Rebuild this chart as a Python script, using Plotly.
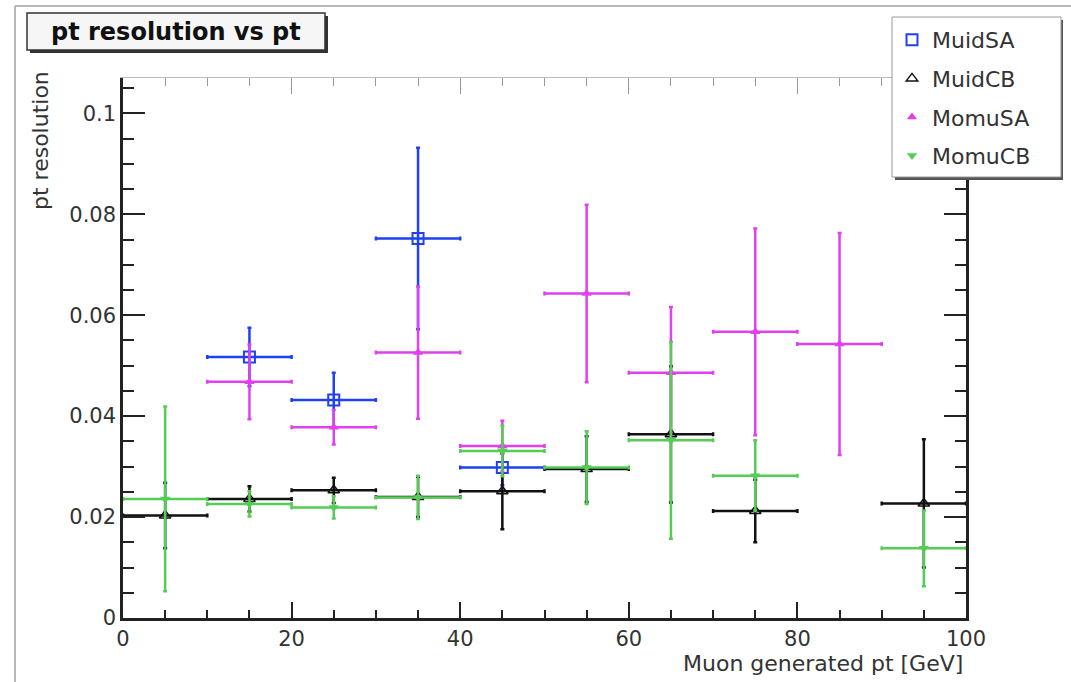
import plotly.graph_objects as go

# Bin centres (GeV) and half bin width for the muon generated pt
bin_half_width = 5

muid_sa_pt = [15, 25, 35, 45]
muid_sa_res = [0.0517, 0.0432, 0.0752, 0.0298]
muid_sa_err = [0.0058, 0.0054, 0.0180, 0.0035]

muid_cb_pt = [5, 15, 25, 35, 45, 55, 65, 75, 95]
muid_cb_res = [0.0203, 0.0236, 0.0253, 0.0240, 0.0251, 0.0295, 0.0364, 0.0212, 0.0227]
muid_cb_err = [0.0065, 0.0025, 0.0025, 0.0040, 0.0075, 0.0065, 0.0135, 0.0062, 0.0127]

momu_sa_pt = [15, 25, 35, 45, 55, 65, 75, 85]
momu_sa_res = [0.0468, 0.0378, 0.0526, 0.0341, 0.0643, 0.0486, 0.0567, 0.0543]
momu_sa_err = [0.0074, 0.0034, 0.0131, 0.0050, 0.0176, 0.0130, 0.0205, 0.0220]

momu_cb_pt = [5, 15, 25, 35, 45, 55, 65, 75, 95]
momu_cb_res = [0.0236, 0.0226, 0.0219, 0.0239, 0.0331, 0.0298, 0.0352, 0.0282, 0.0138]
momu_cb_err = [0.0183, 0.0025, 0.0022, 0.0043, 0.0050, 0.0072, 0.0195, 0.0070, 0.0075]

x_ticks = [0, 20, 40, 60, 80, 100]
y_ticks = [0, 0.02, 0.04, 0.06, 0.08, 0.1]
y_tick_text = ["0", "0.02", "0.04", "0.06", "0.08", "0.1"]

W, H = 1071, 682
L, R, T, B = 123, 105, 78, 64
PW, PH = W - L - R, H - T - B
FONT = "DejaVu Sans"


def px_x(p):
    return (p - L) / PW


def px_y(p):
    return (H - B - p) / PH


series = [
    ("MuidSA", muid_sa_pt, muid_sa_res, muid_sa_err, "#2040f5",
     dict(symbol="square-open", size=11, line=dict(width=2))),
    ("MuidCB", muid_cb_pt, muid_cb_res, muid_cb_err, "#111111",
     dict(symbol="triangle-up-open", size=10, line=dict(width=1.5))),
    ("MomuSA", momu_sa_pt, momu_sa_res, momu_sa_err, "#e040ee",
     dict(symbol="triangle-up", size=9)),
    ("MomuCB", momu_cb_pt, momu_cb_res, momu_cb_err, "#55cc55",
     dict(symbol="triangle-down", size=9)),
]

fig = go.Figure()
for i, (name, xs, ys, es, col, mk) in enumerate(series):
    fig.add_trace(go.Scatter(
        x=xs, y=ys, name=name, mode="markers",
        legendgroup=f"g{i}",
        marker=dict(color=col, **mk),
        error_x=dict(type="constant", value=bin_half_width, color=col,
                     thickness=2.5, width=2),
        error_y=dict(type="data", array=es, color=col,
                     thickness=2.5, width=2),
    ))

# empty trace to carry the top (mirrored) x axis
fig.add_trace(go.Scatter(x=[], y=[], xaxis="x2", showlegend=False,
                         hoverinfo="skip"))

tick_font = dict(family=FONT, size=21, color="#333333")

fig.update_layout(
    width=W, height=H, autosize=False,
    margin=dict(l=L, r=R, t=T, b=B, pad=0),
    paper_bgcolor="white", plot_bgcolor="white",
    showlegend=True,
    xaxis=dict(
        range=[0, 100], tickvals=x_ticks, ticks="inside", ticklen=16,
        tickwidth=1.5, tickcolor="#222", showline=True, linecolor="#222",
        linewidth=2.5, mirror=False, showgrid=False, zeroline=False,
        tickfont=tick_font,
        minor=dict(dtick=5, ticks="inside", ticklen=8, tickwidth=1.5,
                   tickcolor="#222", showgrid=False),
    ),
    xaxis2=dict(
        range=[0, 100], overlaying="x", side="top", anchor="y",
        tickvals=x_ticks, ticks="inside", ticklen=16, tickwidth=1.2,
        tickcolor="#999", showline=True, linecolor="#bbb", linewidth=1,
        showticklabels=False, showgrid=False, zeroline=False,
        minor=dict(dtick=5, ticks="inside", ticklen=8, tickwidth=1.2,
                   tickcolor="#999", showgrid=False),
    ),
    yaxis=dict(
        range=[0, 0.107], tickvals=y_ticks, ticktext=y_tick_text,
        ticks="inside", ticklen=22, tickwidth=1.5, tickcolor="#222",
        showline=True, linecolor="#222", linewidth=2.5, mirror="ticks",
        showgrid=False, zeroline=False, tickfont=tick_font,
        minor=dict(dtick=0.005, ticks="inside", ticklen=11, tickwidth=1.5,
                   tickcolor="#222", showgrid=False),
    ),
    legend=dict(
        x=px_x(892), y=px_y(19), xanchor="left", yanchor="top",
        bgcolor="rgba(0,0,0,0)", borderwidth=0,
        font=dict(family=FONT, size=22, color="#333333"),
        tracegroupgap=7, itemsizing="trace",
    ),
)

shapes = [
    # canvas frame edges
    dict(type="line", xref="paper", yref="paper", x0=px_x(15), x1=px_x(W + 5),
         y0=px_y(6), y1=px_y(6), line=dict(color="#b8b8b8", width=2)),
    dict(type="line", xref="paper", yref="paper", x0=px_x(15), x1=px_x(15),
         y0=px_y(6), y1=px_y(H + 5), line=dict(color="#b8b8b8", width=2)),
    # title box with shadow
    dict(type="rect", xref="paper", yref="paper", x0=px_x(30), x1=px_x(328),
         y0=px_y(16), y1=px_y(53), fillcolor="#333333", line=dict(width=0),
         layer="above"),
    dict(type="rect", xref="paper", yref="paper", x0=px_x(27), x1=px_x(325),
         y0=px_y(13), y1=px_y(50), fillcolor="#f6f6f6",
         line=dict(color="#333333", width=1.5), layer="above"),
    # legend box with shadow
    dict(type="rect", xref="paper", yref="paper", x0=px_x(895), x1=px_x(1063),
         y0=px_y(20), y1=px_y(180), fillcolor="#555555", line=dict(width=0),
         layer="above"),
    dict(type="rect", xref="paper", yref="paper", x0=px_x(892), x1=px_x(1061),
         y0=px_y(17), y1=px_y(177), fillcolor="white",
         line=dict(color="#999999", width=1), layer="above"),
]
fig.update_layout(shapes=shapes)

annotations = [
    dict(text="<b>pt resolution vs pt</b>", xref="paper", yref="paper",
         x=px_x(176), y=px_y(32), xanchor="center", yanchor="middle",
         showarrow=False, font=dict(family=FONT, size=24, color="#111111")),
    dict(text="Muon generated pt [GeV]", xref="paper", yref="paper",
         x=px_x(965), y=px_y(663), xanchor="right", yanchor="middle",
         showarrow=False, font=dict(family=FONT, size=22, color="#333333")),
    dict(text="pt resolution", xref="paper", yref="paper",
         x=px_x(40), y=px_y(141), xanchor="center", yanchor="middle",
         textangle=-90, showarrow=False,
         font=dict(family=FONT, size=22, color="#333333")),
]
fig.update_layout(annotations=annotations)

fig.write_html("out.html")
